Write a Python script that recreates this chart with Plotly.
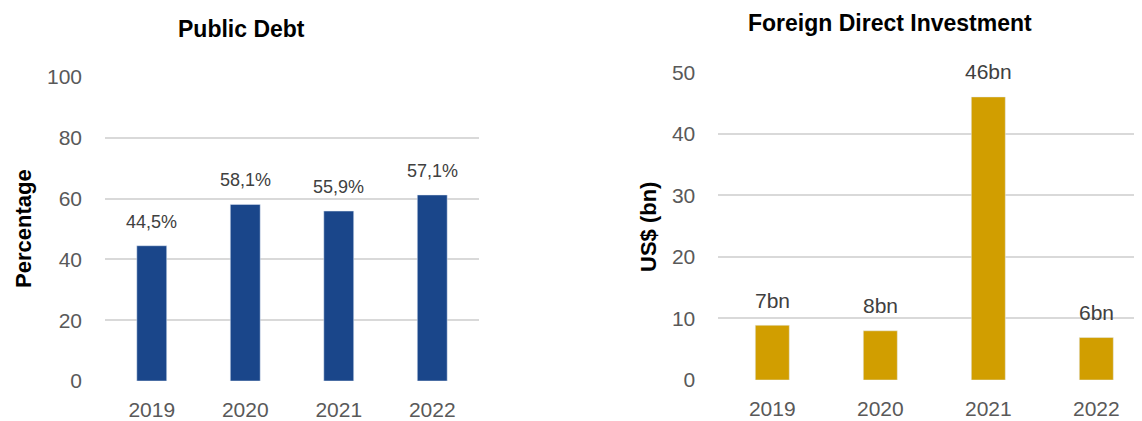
import plotly.graph_objects as go

years = ["2019", "2020", "2021", "2022"]
debt_values = [44.5, 58.1, 55.9, 61.2]
debt_labels = ["44,5%", "58,1%", "55,9%", "57,1%"]
fdi_values = [8.9, 8.0, 46.0, 6.9]
fdi_labels = ["7bn", "8bn", "46bn", "6bn"]
debt_ticks = [0, 20, 40, 60, 80, 100]
fdi_ticks = [0, 10, 20, 30, 40, 50]

FONT = "Liberation Sans, Arial, sans-serif"
BLUE = "#1A468A"
GOLD = "#D19E00"
GRID = "#D9D9D9"
TICK = "#595959"
LABEL = "#404040"

# page body adds an 8px margin; figure is sized so it fills the window exactly
OFF = 8
W, H = 1142 - OFF, 421 - OFF

def sx(p):
    return (p - OFF) / W

def sy(p):
    return 1 - (p - OFF) / H

fig = go.Figure()
fig.add_trace(go.Bar(x=years, y=debt_values, marker_color=BLUE, width=0.32,
                     xaxis="x", yaxis="y", hoverinfo="x+y"))
fig.add_trace(go.Bar(x=years, y=fdi_values, marker_color=GOLD, width=0.315,
                     xaxis="x2", yaxis="y2", hoverinfo="x+y"))

axis_common = dict(showline=False, zeroline=False, ticks="", automargin=False,
                   tickfont=dict(family=FONT, size=21, color=TICK))

fig.update_layout(
    width=W, height=H,
    margin=dict(l=0, r=0, t=0, b=0),
    plot_bgcolor="white", paper_bgcolor="white",
    showlegend=False,
    xaxis=dict(type="category", domain=[sx(105), sx(479)], range=[-0.5, 3.5],
               anchor="y", showgrid=False, ticklabelstandoff=14, **axis_common),
    yaxis=dict(domain=[sy(381), sy(77)], range=[0, 100], anchor="x",
               tickvals=debt_ticks, showgrid=True, gridcolor=GRID, gridwidth=1.5,
               ticklabelstandoff=22, **axis_common),
    xaxis2=dict(type="category", domain=[sx(718.3), 1.0], range=[-0.5, 3.423],
                anchor="y2", showgrid=False, ticklabelstandoff=14, **axis_common),
    yaxis2=dict(domain=[sy(380), sy(72.3)], range=[0, 50], anchor="x2",
                tickvals=fdi_ticks, showgrid=True, gridcolor=GRID, gridwidth=1.5,
                ticklabelstandoff=22, **axis_common),
)

annotations = []
for i, (v, t) in enumerate(zip(debt_values, debt_labels)):
    annotations.append(dict(x=i, y=v, xref="x", yref="y", text=t, showarrow=False,
                            yanchor="middle", yshift=24,
                            font=dict(family=FONT, size=18, color=LABEL)))
for i, (v, t) in enumerate(zip(fdi_values, fdi_labels)):
    annotations.append(dict(x=i, y=v, xref="x2", yref="y2", text=t, showarrow=False,
                            yanchor="middle", yshift=25,
                            font=dict(family=FONT, size=21, color=LABEL)))

annotations += [
    dict(x=sx(241), y=sy(29), xref="paper", yref="paper", text="<b>Public Debt</b>",
         showarrow=False, xanchor="center", yanchor="middle",
         font=dict(family=FONT, size=23, color="black")),
    dict(x=sx(889.5), y=sy(23), xref="paper", yref="paper",
         text="<b>Foreign Direct Investment</b>",
         showarrow=False, xanchor="center", yanchor="middle",
         font=dict(family=FONT, size=23, color="black")),
    dict(x=sx(23), y=sy(229), xref="paper", yref="paper", text="<b>Percentage</b>",
         showarrow=False, textangle=-90, xanchor="center", yanchor="middle",
         font=dict(family=FONT, size=22, color="black")),
    dict(x=sx(648), y=sy(227), xref="paper", yref="paper", text="<b>US$ (bn)</b>",
         showarrow=False, textangle=-90, xanchor="center", yanchor="middle",
         font=dict(family=FONT, size=22, color="black")),
]
fig.update_layout(annotations=annotations)

fig.write_html("out.html")
